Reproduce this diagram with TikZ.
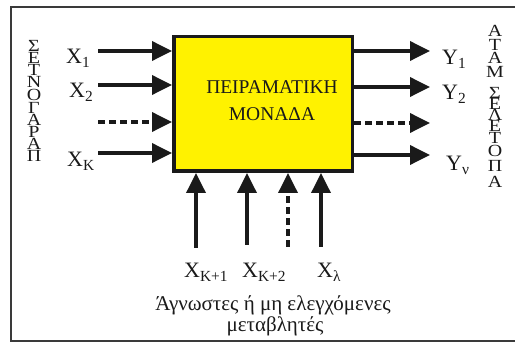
\documentclass[tikz,border=0pt]{standalone}
\usepackage{fontspec}
\setmainfont{Liberation Serif}
\usetikzlibrary{arrows.meta}
\definecolor{unitfill}{HTML}{FFF200}
\definecolor{ink}{HTML}{1A1A1A}
\definecolor{framegray}{HTML}{3A3A3A}
\begin{document}
\begin{tikzpicture}[x=1pt,y=-1pt,
  flow/.style={ink, line width=3.6pt, -{Triangle[length=20pt,width=19pt]}},
  dashedflow/.style={flow, dash pattern=on 7pt off 4pt},
  lbl/.style={font=\fontsize{22}{24}\selectfont, inner sep=0pt, text=ink, anchor=base west},
  letter/.style={font=\fontsize{20}{20}\selectfont, inner sep=0pt, text=ink},
  notetext/.style={font=\fontsize{21}{21}\selectfont, inner sep=0pt, text=ink, anchor=base},
  unitbox/.style={draw=ink, line width=3.5pt, fill=unitfill, minimum width=178.5pt, minimum height=134.5pt, inner sep=0pt},
]
\useasboundingbox (0,0) rectangle (515,342);
% outer frame, open to the right
\draw[framegray, line width=1.5pt] (520,7) -- (11,7) -- (11,341) -- (520,341);

% the experimental unit
\node[unitbox] (unit) at (263,104) {};
\node[font=\fontsize{19.5}{27}\selectfont, align=center, text=ink, inner sep=0pt] (title) at (272,101) {ΠΕΙΡΑΜΑΤΙΚΗ\\ΜΟΝΑΔΑ};

% controlled inputs
\coordinate (in1) at (98,51);
\coordinate (in2) at (98,85);
\coordinate (in3) at (98,122);
\coordinate (ink4) at (98,153);
\draw[flow] (in1) -- (in1 -| unit.west);
\draw[flow] (in2) -- (in2 -| unit.west);
\draw[dashedflow] (in3) -- (in3 -| unit.west);
\draw[flow] (ink4) -- (ink4 -| unit.west);
\node[lbl] (x1) at (66,64) {X\textsubscript{1}};
\node[lbl] (x2) at (69,98) {X\textsubscript{2}};
\node[lbl] (xk) at (67,167) {X\textsubscript{K}};

% outputs
\coordinate (out1) at (430,51);
\coordinate (out2) at (430,87);
\coordinate (out3) at (430,123);
\coordinate (out4) at (430,155);
\draw[flow] (out1 -| unit.east) -- (out1);
\draw[flow] (out2 -| unit.east) -- (out2);
\draw[dashedflow] (out3 -| unit.east) -- (out3);
\draw[flow] (out4 -| unit.east) -- (out4);
\node[lbl] (y1) at (442,65) {Y\textsubscript{1}};
\node[lbl] (y2) at (442,100) {Y\textsubscript{2}};
\node[lbl] (yv) at (446,171) {Y\textsubscript{ν}};

% uncontrolled inputs from below
\coordinate (b1) at (196,248);
\coordinate (b2) at (247,245);
\coordinate (b3) at (288,247);
\coordinate (b4) at (321,247);
\draw[flow] (b1) -- (b1 |- unit.south);
\draw[flow] (b2) -- (b2 |- unit.south);
\draw[dashedflow] (b3) -- (b3 |- unit.south);
\draw[flow] (b4) -- (b4 |- unit.south);
\node[lbl] (xk1) at (184,278) {X\textsubscript{K+1}};
\node[lbl] (xk2) at (242,278) {X\textsubscript{K+2}};
\node[lbl] (xl) at (317,278) {X\textsubscript{λ}};

\node[notetext] (note1) at (273,311) {Άγνωστες ή μη ελεγχόμενες};
\node[notetext] (note2) at (275,331) {μεταβλητές};

% stacked side captions
\foreach \c/\y [count=\i] in {Σ/46, Ε/58, Τ/70, Ν/82, Ο/95, Γ/108, Α/120, Ρ/132, Α/144, Π/156}
  \node[letter] (fac\i) at (34,\y) {\scalebox{1}[0.85]{\c}};
\foreach \c/\y [count=\i] in {Α/31, Τ/45, Α/58, Μ/72, Σ/93, Ε/104, Λ/115, Ε/126, Τ/138, Ο/151, Π/166, Α/182}
  \node[letter] (res\i) at (495,\y) {\scalebox{1}[0.85]{\c}};
\end{tikzpicture}
\end{document}
